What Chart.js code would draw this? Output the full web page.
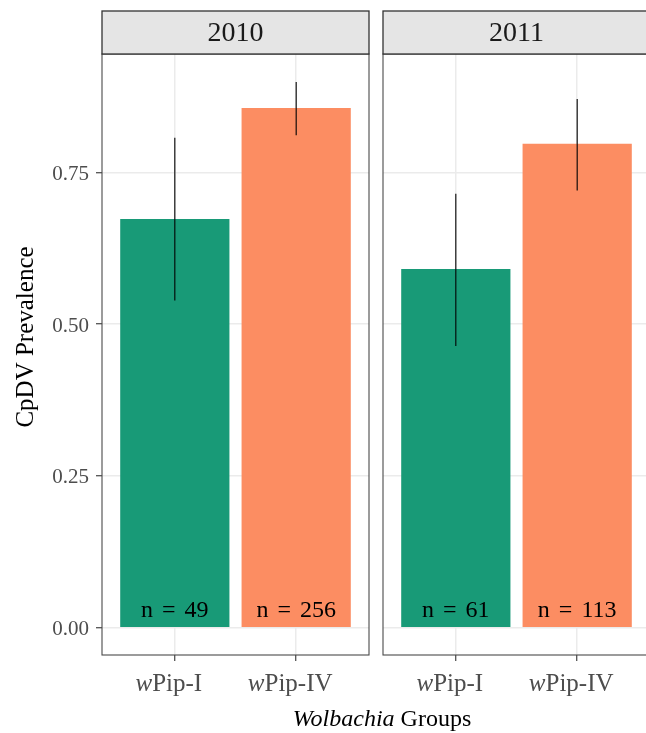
<!DOCTYPE html>
<html>
<head>
<meta charset="utf-8">
<script src="https://cdn.jsdelivr.net/npm/chart.js@4"></script>
<style>
  html, body { margin: 0; padding: 0; background: #fff; }
  #wrap { position: relative; width: 646px; height: 733px; overflow: hidden; background: #fff; }
  canvas { position: absolute; top: 0; }
  #c2010 { left: 0; }
  #c2011 { left: 281px; }
</style>
</head>
<body>
<div id="wrap">
  <canvas id="c2010" width="376" height="733"></canvas>
  <canvas id="c2011" width="376" height="733"></canvas>
</div>
<script>
// CpDV prevalence by Wolbachia group, faceted by year
const years = ['2010', '2011'];
const groups = ['wPip-I', 'wPip-IV'];
const prevalence2010 = [0.673, 0.856];
const lower2010 = [0.539, 0.811];
const upper2010 = [0.807, 0.899];
const n2010 = [49, 256];
const prevalence2011 = [0.591, 0.797];
const lower2011 = [0.464, 0.720];
const upper2011 = [0.715, 0.871];
const n2011 = [61, 113];
const yTicks = [0, 0.25, 0.5, 0.75];
const groupColors = ['#189a77', '#fc8d62'];

const SERIF = '"Liberation Serif", "Times New Roman", serif';

// Strip, panel border, error bars, sample sizes and axis labels for one facet
const facetPlugin = {
  id: 'facet',
  afterDatasetsDraw(chart, args, opts) {
    const { ctx, scales: { x, y } } = chart;
    ctx.save();
    // confidence intervals
    ctx.strokeStyle = '#000';
    ctx.lineWidth = 1.1;
    opts.lower.forEach((lo, i) => {
      const px = x.getPixelForValue(i + 1);
      ctx.beginPath();
      ctx.moveTo(px, y.getPixelForValue(lo));
      ctx.lineTo(px, y.getPixelForValue(opts.upper[i]));
      ctx.stroke();
    });
    // sample sizes
    ctx.fillStyle = '#000';
    ctx.font = '24px ' + SERIF;
    ctx.textAlign = 'center';
    ctx.textBaseline = 'alphabetic';
    ctx.wordSpacing = '3px';
    opts.n.forEach((n, i) => {
      ctx.fillText('n = ' + n, x.getPixelForValue(i + 1), y.getPixelForValue(0) - 10.5);
    });
    ctx.restore();
  },
  afterDraw(chart, args, opts) {
    const { ctx, chartArea: a, scales: { x } } = chart;
    ctx.save();
    // panel border
    ctx.strokeStyle = '#4a4a4a';
    ctx.lineWidth = 1.1;
    ctx.strokeRect(a.left, a.top, a.width, a.height);
    // facet strip
    const stripTop = 11;
    ctx.fillStyle = '#e5e5e5';
    ctx.fillRect(a.left, stripTop, a.width, a.top - stripTop);
    ctx.strokeStyle = '#333';
    ctx.lineWidth = 1.3;
    ctx.strokeRect(a.left, stripTop, a.width, a.top - stripTop);
    ctx.fillStyle = '#1a1a1a';
    ctx.font = '28px ' + SERIF;
    ctx.textAlign = 'center';
    ctx.textBaseline = 'middle';
    ctx.fillText(opts.year, (a.left + a.right) / 2, (stripTop + a.top) / 2 + 1);

    // category labels: italic "w" followed by upright group name
    ctx.fillStyle = '#4d4d4d';
    ctx.textBaseline = 'alphabetic';
    ctx.textAlign = 'left';
    const italic = 'italic 25px ' + SERIF, upright = '25px ' + SERIF;
    groups.forEach((g, i) => {
      const head = g.charAt(0), rest = g.slice(1);
      ctx.font = italic; const wHead = ctx.measureText(head).width;
      ctx.font = upright; const wRest = ctx.measureText(rest).width;
      const start = x.getPixelForValue(i + 1) - (wHead + wRest) / 2 - 6;
      ctx.font = italic; ctx.fillText(head, start, 691);
      ctx.font = upright; ctx.fillText(rest, start + wHead, 691);
    });

    // y axis title
    if (opts.yTitle) {
      ctx.save();
      ctx.translate(33, 337);
      ctx.rotate(-Math.PI / 2);
      ctx.fillStyle = '#000';
      ctx.font = '25px ' + SERIF;
      ctx.textAlign = 'center';
      ctx.fillText(opts.yTitle, 0, 0);
      ctx.restore();
    }
    // x axis title, centred across both facets
    if (opts.xTitle) {
      ctx.fillStyle = '#000';
      const partA = 'Wolbachia', partB = ' Groups';
      ctx.font = 'italic 24px ' + SERIF; const wA = ctx.measureText(partA).width;
      ctx.font = '24px ' + SERIF; const wB = ctx.measureText(partB).width;
      const start = opts.xTitleCenter - (wA + wB) / 2;
      ctx.font = 'italic 24px ' + SERIF; ctx.fillText(partA, start, 726);
      ctx.font = '24px ' + SERIF; ctx.fillText(partB, start + wA, 726);
    }
    ctx.restore();
  }
};

function makePanel(canvasId, year, prev, lo, hi, n, first) {
  return new Chart(document.getElementById(canvasId), {
    type: 'bar',
    data: {
      datasets: [{
        data: prev.map((v, i) => ({ x: i + 1, y: v })),
        backgroundColor: groupColors,
        borderWidth: 0,
        categoryPercentage: 1,
        barPercentage: 0.9
      }]
    },
    options: {
      responsive: false,
      animation: false,
      events: [],
      layout: { padding: { top: 54, right: 7, left: 0, bottom: 0 } },
      plugins: {
        legend: { display: false },
        tooltip: { enabled: false },
        facet: {
          year, lower: lo, upper: hi, n,
          yTitle: first ? 'CpDV Prevalence' : null,
          xTitle: !first,
          xTitleCenter: 101
        }
      },
      scales: {
        x: {
          type: 'linear', min: 0.4, max: 2.6, offset: false,
          afterBuildTicks: s => { s.ticks = groups.map((g, i) => ({ value: i + 1 })); },
          afterFit: s => { s.height = 78; },
          ticks: { display: false },
          grid: { offset: false, color: '#ebebeb', lineWidth: 1.5, drawTicks: true, tickLength: 6, tickColor: '#333', tickWidth: 1.1 },
          border: { display: false }
        },
        y: {
          type: 'linear', min: -0.045, max: 0.945,
          afterBuildTicks: s => { s.ticks = yTicks.map(v => ({ value: v })); },
          afterFit: s => { s.width = 102; },
          ticks: {
            display: first, color: '#4d4d4d', padding: 7, labelOffset: 2,
            font: { family: SERIF, size: 21 },
            callback: v => v.toFixed(2)
          },
          grid: { color: '#ebebeb', lineWidth: 1.5, drawTicks: first, tickLength: 6, tickColor: '#333', tickWidth: 1.1 },
          border: { display: false }
        }
      }
    },
    plugins: [facetPlugin]
  });
}

makePanel('c2010', years[0], prevalence2010, lower2010, upper2010, n2010, true);
makePanel('c2011', years[1], prevalence2011, lower2011, upper2011, n2011, false);
</script>
</body>
</html>
